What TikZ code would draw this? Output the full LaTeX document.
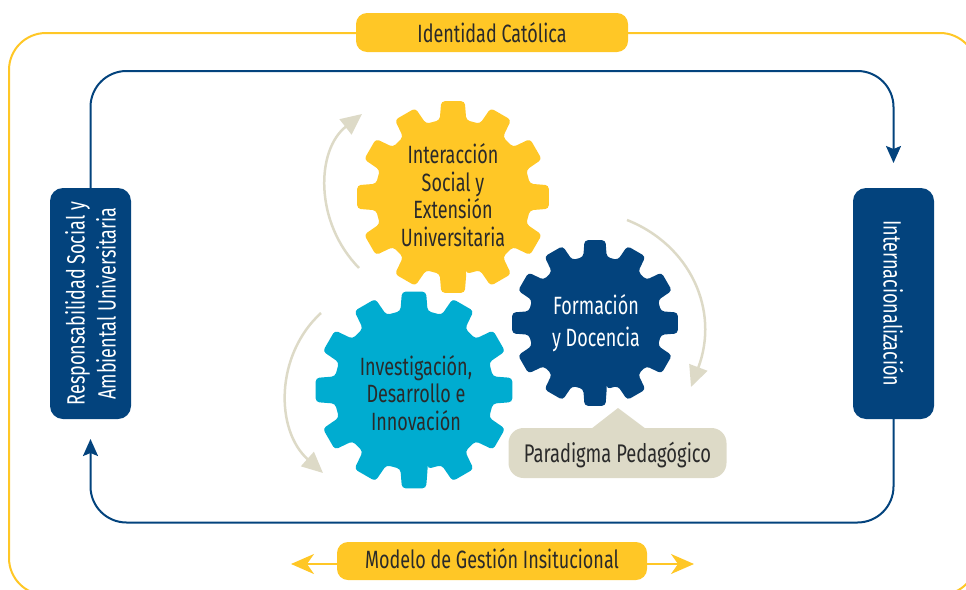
\documentclass[tikz,border=0pt]{standalone}
\usepackage{fontspec}
\setmainfont[FakeStretch=0.72]{Fira Sans}
\usetikzlibrary{arrows.meta, positioning, calc}
\definecolor{gearyellow}{HTML}{FFC726}
\definecolor{gearnavy}{HTML}{03437D}
\definecolor{gearcyan}{HTML}{00ACD0}
\definecolor{sandgrey}{HTML}{DDDAC7}
\definecolor{inkdark}{HTML}{2A2A2A}
\newcommand{\drawgear}[5]{% centre, outer radius, root radius, half tooth angle, colour
    \fill[#5, rounded corners=3.5pt] ($(#1)+(90-#4*1.4:#3)$)
    \foreach \ang in {0,30,...,330} {
        -- ($(#1)+(90+\ang-#4*1.4:#3)$) -- ($(#1)+(90+\ang-#4:#2)$) -- ($(#1)+(90+\ang+#4:#2)$) -- ($(#1)+(90+\ang+#4*1.4:#3)$)
    } -- cycle;
}
\tikzset{
    gearlabel/.style={align=center, font=\fontsize{25}{27.5}\selectfont, text=inkdark},
    sidebox/.style={fill=gearnavy, rounded corners=13pt, text=white, minimum width=231pt, minimum height=81pt, align=center, font=\fontsize{25}{31}\selectfont},
    tagbox/.style={fill=gearyellow, rounded corners=11pt, text=inkdark, font=\fontsize{25}{27}\selectfont},
    flowline/.style={gearnavy, line width=2pt, rounded corners=36pt},
    outerline/.style={gearyellow, line width=2pt, rounded corners=37pt},
    turnarrow/.style={sandgrey, line width=2.5pt, -{Triangle[length=21pt, width=19pt]}},
    navytip/.style={-{Stealth[length=17pt, width=15pt, inset=3pt]}},
    yellowtip/.style={gearyellow, line width=2pt, -{Stealth[length=23pt, width=20pt, inset=7pt]}}
}
\begin{document}
\begin{tikzpicture}[x=1pt, y=-1pt]
    \useasboundingbox (0,0) rectangle (966,589);
    \clip (0,0) rectangle (966,589);
    % Outer frame
    \coordinate (framestart) at (356,33);
    \coordinate (frameend) at (628,33);
    \draw[outerline] (framestart) -- (9,33) -- (9,595) -- (977,595) -- (977,33) -- (frameend);
    % Tags
    \node (catolica) [tagbox, minimum width=272pt, minimum height=39pt] at (492,32.5) {Identidad Católica};
    \node (modelo) [tagbox, minimum width=310pt, minimum height=38pt, text height=20pt, text depth=5pt] at (492,561) {Modelo de Gestión Insitucional};
    \coordinate (modeloleft) at (291,564);
    \coordinate (modeloright) at (694,564);
    \draw[yellowtip] (modelo.west |- modeloleft) -- (modeloleft);
    \draw[yellowtip] (modelo.east |- modeloright) -- (modeloright);
    % Side boxes
    \node (responsabilidad) [sidebox, rotate=90] at (90.5,303.5) {Responsabilidad Social y\\Ambiental Universitaria};
    \node (internacional) [sidebox, rotate=-90] at (893.5,303.5) {Internacionalización};
    \coordinate (respsouth) at (90.5,419);
    \coordinate (respnorth) at (90.5,188);
    \coordinate (intsouth) at (893.5,419);
    \coordinate (intnorth) at (893.5,188);
    % Navy loop
    \draw[flowline, navytip] (respnorth) -- (90.5,71) -- (893.5,71) -- ([yshift=25pt]intnorth);
    \draw[flowline, navytip] (intsouth) -- (893.5,522.5) -- (90.5,522.5) -- ([yshift=-20pt]respsouth);
    % Gears
    \drawgear{453,197}{96.5}{78}{7}{gearyellow}
    \drawgear{595,323}{83.5}{67}{7.2}{gearnavy}
    \drawgear{414,390}{99}{80}{7}{gearcyan}
    \node (interaccion) [gearlabel] at (453,195) {Interacción\\Social y\\Extensión\\Universitaria};
    \node (formacion) [gearlabel, text=white, font=\fontsize{25}{32}\selectfont] at (596,323) {Formación\\y Docencia};
    \node (investigacion) [gearlabel] at (416,393) {Investigación,\\Desarrollo e\\Innovación};
    % Turning arrows
    \coordinate (turnastart) at (359,268);
    \coordinate (turnaend) at (362,114);
    \coordinate (turnbstart) at (321,313);
    \coordinate (turnbend) at (323,473);
    \coordinate (turncstart) at (627,220);
    \coordinate (turncend) at (691,387);
    \draw[turnarrow] (turnastart) .. controls (314,222) and (316,150) .. (turnaend);
    \draw[turnarrow] (turnbstart) .. controls (275,355) and (275,430) .. (turnbend);
    \draw[turnarrow] (turncstart) .. controls (690,245) and (720,310) .. (turncend);
    % Paradigm tag
    \node (paradigma) [fill=sandgrey, rounded corners=15pt, minimum width=218pt, minimum height=50pt, text=inkdark, text height=24pt, text depth=5pt, font=\fontsize{25.5}{26}\selectfont] at (617.5,453) {Paradigma Pedagógico};
    \coordinate (paradigmaapex) at (618,408);
    \fill[sandgrey] (paradigmaapex) -- (591,429) -- (646,429) -- cycle;
\end{tikzpicture}
\end{document}
